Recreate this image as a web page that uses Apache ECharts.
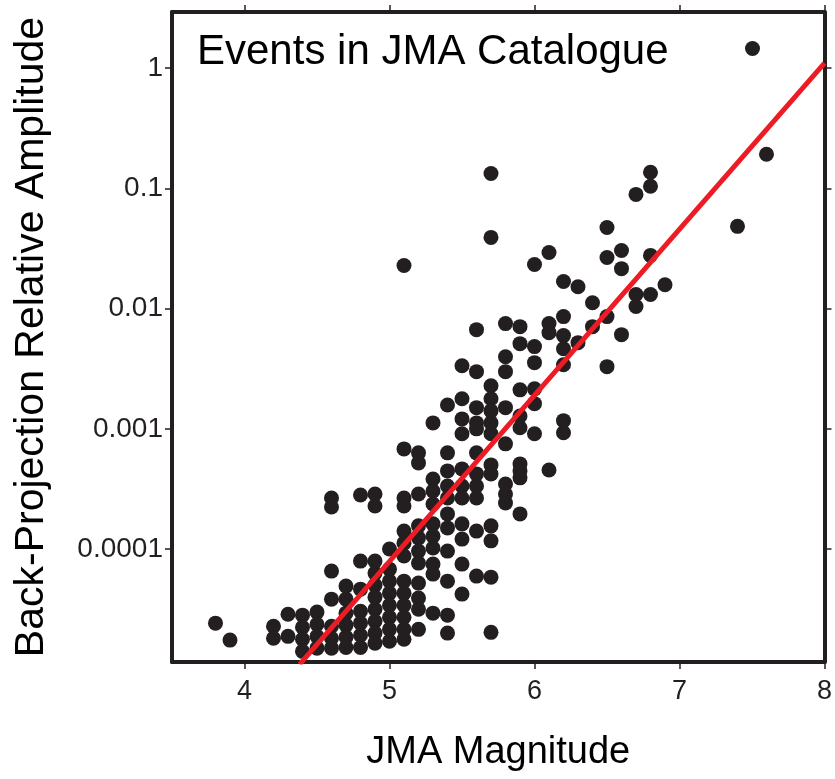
<!DOCTYPE html>
<html>
<head>
<meta charset="utf-8">
<script src="https://cdn.jsdelivr.net/npm/echarts@6/dist/echarts.min.js"></script>
<style>
  html, body { margin: 0; padding: 0; background: #ffffff; }
  #chart { width: 835px; height: 779px; }
</style>
</head>
<body>
<div id="chart"></div>
<script>
// JMA magnitude of each column of events
const magnitudes = [3.8, 3.9, 4.2, 4.3, 4.4, 4.5, 4.6, 4.7, 4.8, 4.9, 5.0, 5.1, 5.2, 5.3, 5.4, 5.5, 5.6, 5.7, 5.8, 5.9, 6.0, 6.1, 6.2, 6.3, 6.4, 6.5, 6.6, 6.7, 6.8, 6.9, 7.4, 7.6];
// Back-projection relative amplitudes of the events at each magnitude
const amplitudesByMagnitude = [
  [2.42e-5],
  [1.75e-5],
  [2.28e-5, 1.81e-5],
  [2.87e-5, 1.88e-5],
  [2.82e-5, 2.24e-5, 1.78e-5, 1.41e-5],
  [2.99e-5, 2.37e-5, 1.88e-5, 1.50e-5],
  [2.66e-4, 2.24e-4, 6.56e-5, 3.83e-5, 2.28e-5, 1.81e-5, 1.50e-5],
  [4.92e-5, 3.83e-5, 2.93e-5, 2.33e-5, 1.85e-5, 1.52e-5],
  [2.82e-4, 7.94e-5, 4.64e-5, 3.04e-5, 2.42e-5, 1.92e-5, 1.52e-5],
  [2.87e-4, 2.28e-4, 7.94e-5, 6.31e-5, 5.01e-5, 3.98e-5, 3.16e-5, 2.51e-5, 2.0e-5, 1.65e-5],
  [1.0e-4, 6.81e-5, 5.41e-5, 4.30e-5, 3.41e-5, 2.71e-5, 2.15e-5, 1.71e-5],
  [2.28e-2, 6.81e-4, 2.66e-4, 2.28e-4, 1.41e-4, 1.12e-4, 8.75e-5, 5.41e-5, 4.30e-5, 3.41e-5, 2.71e-5, 2.15e-5, 1.78e-5],
  [6.31e-4, 5.21e-4, 2.87e-4, 1.56e-4, 1.24e-4, 9.62e-5, 7.64e-5, 5.21e-5, 3.91e-5, 3.16e-5, 2.15e-5],
  [1.12e-3, 3.83e-4, 3.04e-4, 2.37e-4, 1.62e-4, 1.28e-4, 1.02e-4, 7.50e-5, 6.19e-5, 2.93e-5],
  [1.58e-3, 6.31e-4, 4.47e-4, 3.35e-4, 2.66e-4, 1.96e-4, 1.50e-4, 9.62e-5, 5.41e-5, 2.82e-5, 2.0e-5],
  [3.35e-3, 1.78e-3, 1.21e-3, 9.09e-4, 4.64e-4, 3.35e-4, 2.66e-4, 1.62e-4, 1.21e-4, 7.50e-5, 4.22e-5],
  [6.68e-3, 2.99e-3, 1.50e-3, 1.12e-3, 1.0e-3, 6.31e-4, 4.22e-4, 3.35e-4, 2.66e-4, 1.41e-4, 5.96e-5],
  [0.133, 3.91e-2, 2.28e-3, 1.78e-3, 1.41e-3, 1.12e-3, 9.09e-4, 5.01e-4, 4.22e-4, 1.56e-4, 1.17e-4, 5.84e-5, 2.03e-5],
  [7.50e-3, 3.98e-3, 2.99e-3, 1.50e-3, 7.50e-4, 3.48e-4, 2.87e-4, 2.42e-4],
  [7.08e-3, 5.11e-3, 2.11e-3, 1.28e-3, 1.02e-3, 5.11e-4, 4.47e-4, 3.91e-4, 1.96e-4],
  [2.33e-2, 4.83e-3, 3.55e-3, 2.15e-3, 1.62e-3, 9.09e-4],
  [2.93e-2, 7.50e-3, 6.31e-3, 4.55e-4],
  [1.68e-2, 8.58e-3, 5.96e-3, 4.64e-3, 3.41e-3, 1.17e-3, 9.27e-4],
  [1.52e-2, 5.21e-3],
  [1.12e-2, 7.08e-3],
  [4.73e-2, 2.66e-2, 8.58e-3, 3.29e-3],
  [3.04e-2, 2.15e-2, 6.07e-3],
  [8.91e-2, 1.31e-2, 1.04e-2],
  [0.136, 0.104, 2.77e-2, 1.31e-2],
  [1.58e-2],
  [4.83e-2],
  [0.192]
];
// Fitted trend line end points [magnitude, amplitude]
const fitLine = [[4.38, 1.1e-5], [8.0, 1.10]];
// Axis ticks
const xTicks = [4, 5, 6, 7, 8];
const yTicks = [1e-4, 1e-3, 1e-2, 1e-1, 1];
const yTickLabels = ['0.0001', '0.001', '0.01', '0.1', '1'];
const seriesName = 'Events in JMA Catalogue';

const points = [];
magnitudes.forEach((m, i) => {
  amplitudesByMagnitude[i].forEach(a => points.push([m, a]));
});

const ink = '#231f20';
const font = '"Liberation Sans", Arial, Helvetica, sans-serif';
const chart = echarts.init(document.getElementById('chart'), null, { renderer: 'canvas' });

const xBase = {
  type: 'value', min: 3.5, max: 8,
  splitLine: { show: false },
  axisLine: { show: true, onZero: false, lineStyle: { color: ink, width: 4 } },
  axisTick: { show: true, inside: false, length: 7, customValues: xTicks, lineStyle: { color: ink, width: 1.5 } }
};
const yBase = {
  type: 'log', logBase: 10, min: 1.15e-5, max: 2.93,
  splitLine: { show: false },
  minorTick: { show: false },
  axisLine: { show: true, onZero: false, lineStyle: { color: ink, width: 4 } },
  axisTick: { show: true, inside: false, length: 7, customValues: yTicks, lineStyle: { color: ink, width: 1.5 } }
};

chart.setOption({
  animation: false,
  backgroundColor: '#ffffff',
  textStyle: { fontFamily: font },
  grid: { left: 172, right: 10, top: 12, bottom: 117, containLabel: false },
  legend: [
    {
      // legend text
      data: [seriesName],
      left: 187, top: 26,
      align: 'left',
      selectedMode: false,
      itemWidth: 0, itemHeight: 0,
      icon: 'rect',
      textStyle: { fontSize: 42, color: '#000', fontFamily: font }
    },
    {
      // legend marker, placed at the right end of the legend box
      data: [seriesName],
      left: 740, top: 36,
      align: 'left',
      selectedMode: false,
      itemWidth: 15, itemHeight: 15,
      icon: 'circle',
      formatter: () => '',
      textStyle: { fontSize: 1 }
    }
  ],
  xAxis: [
    Object.assign({}, xBase, {
      position: 'bottom',
      name: 'JMA Magnitude', nameLocation: 'middle', nameGap: 72,
      nameTextStyle: { fontSize: 38, color: '#000', fontFamily: font },
      axisLabel: { show: true, customValues: xTicks, fontSize: 27, color: ink, margin: 16, fontFamily: font }
    }),
    Object.assign({}, xBase, { position: 'top', axisLabel: { show: false } })
  ],
  yAxis: [
    Object.assign({}, yBase, {
      position: 'left',
      name: 'Back-Projection Relative Amplitude', nameLocation: 'middle', nameGap: 120,
      nameTextStyle: { fontSize: 41, color: '#000', fontFamily: font },
      axisLabel: {
        show: true, customValues: yTicks, fontSize: 28, color: ink, margin: 9, fontFamily: font,
        formatter: v => {
          const k = yTicks.findIndex(t => Math.abs(Math.log10(t) - Math.log10(v)) < 1e-6);
          return k >= 0 ? yTickLabels[k] : '';
        }
      }
    }),
    Object.assign({}, yBase, { position: 'right', axisLabel: { show: false } })
  ],
  series: [
    {
      name: seriesName,
      type: 'scatter',
      xAxisIndex: 0, yAxisIndex: 0,
      data: points,
      symbol: 'circle',
      symbolSize: 15,
      itemStyle: { color: ink, opacity: 1 },
      z: 2
    },
    {
      name: 'fit',
      type: 'line',
      xAxisIndex: 0, yAxisIndex: 0,
      data: fitLine,
      showSymbol: false,
      symbol: 'none',
      clip: true,
      lineStyle: { color: '#ed1c24', width: 5 },
      z: 3
    }
  ]
});
</script>
</body>
</html>
